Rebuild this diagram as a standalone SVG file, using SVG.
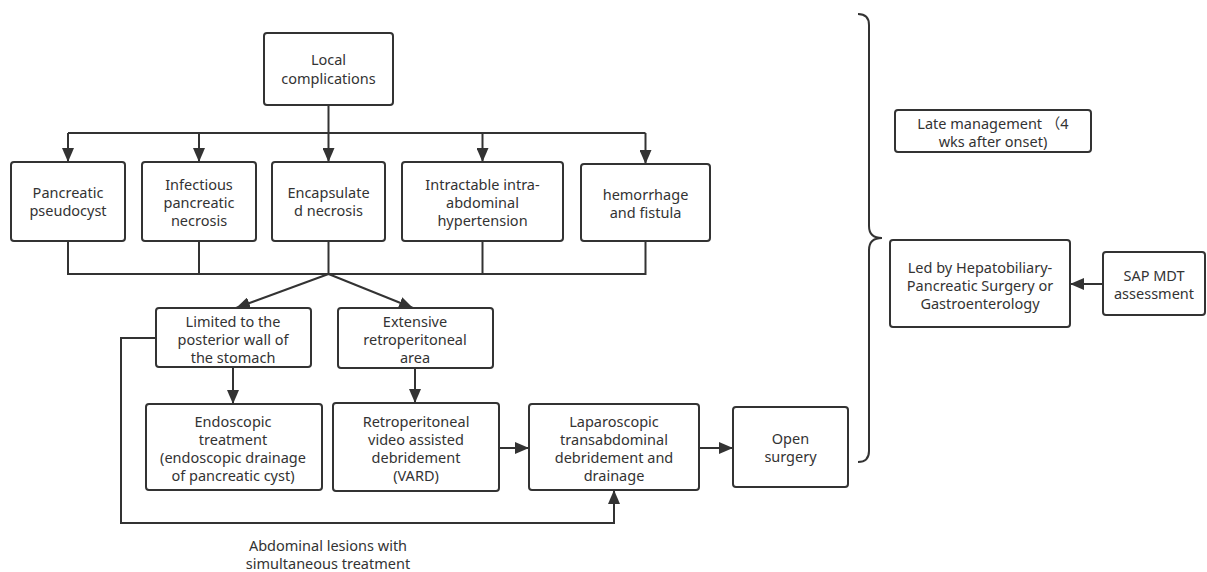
<svg xmlns="http://www.w3.org/2000/svg" width="1207" height="572" viewBox="0 0 1207 572">
<style>
.box{fill:#fff;stroke:#333;stroke-width:2}
.ln{fill:none;stroke:#333;stroke-width:2}
text{font-family:"Noto Sans","Noto Sans CJK SC",sans-serif;font-size:14.5px;fill:#333;text-anchor:middle}
</style>
<defs>
<marker id="ah" markerUnits="userSpaceOnUse" markerWidth="14" markerHeight="12" refX="14" refY="6" orient="auto">
<path d="M0,0 L14,6 L0,12 z" fill="#333"/>
</marker>
</defs>
<rect width="1207" height="572" fill="#fff"/>
<g id="connectors">
<path class="ln" d="M328.5,105 V133"/>
<path class="ln" d="M68,133 H645.5"/>
<path class="ln" d="M68,133 V162" marker-end="url(#ah)"/>
<path class="ln" d="M199,133 V162" marker-end="url(#ah)"/>
<path class="ln" d="M328.5,133 V162" marker-end="url(#ah)"/>
<path class="ln" d="M482.5,133 V162" marker-end="url(#ah)"/>
<path class="ln" d="M645.5,133 V164" marker-end="url(#ah)"/>
<path class="ln" d="M68,241 V274 H645.5 V241"/>
<path class="ln" d="M199,241 V274"/>
<path class="ln" d="M328.5,241 V274"/>
<path class="ln" d="M482.5,241 V274"/>
<path class="ln" d="M328.5,274 L236,308" marker-end="url(#ah)"/>
<path class="ln" d="M328.5,274 L413,308" marker-end="url(#ah)"/>
<path class="ln" d="M233,367 V404" marker-end="url(#ah)"/>
<path class="ln" d="M415,368 V403" marker-end="url(#ah)"/>
<path class="ln" d="M499,448 H529" marker-end="url(#ah)"/>
<path class="ln" d="M699,448 H733" marker-end="url(#ah)"/>
<path class="ln" d="M156,338 H121 V523 H614 V490" marker-end="url(#ah)"/>
<path class="ln" d="M1103,284 H1070" marker-end="url(#ah)"/>
<path class="ln" d="M858,14 Q869,14 869,25 V226 Q869,238 882,238 Q869,238 869,250 V451 Q869,462 858,462"/>
</g>
<g id="n-local">
<rect class="box" x="264" y="33" width="129" height="72" rx="3"/>
<text x="328.5" y="65">Local</text>
<text x="328.5" y="84">complications</text>
</g>
<g id="n-pseudocyst">
<rect class="box" x="11" y="162" width="114" height="79" rx="3"/>
<text x="68" y="198">Pancreatic</text>
<text x="68" y="216">pseudocyst</text>
</g>
<g id="n-infectious">
<rect class="box" x="142" y="162" width="114" height="79" rx="3"/>
<text x="199" y="190">Infectious</text>
<text x="199" y="208">pancreatic</text>
<text x="199" y="226">necrosis</text>
</g>
<g id="n-encapsulated">
<rect class="box" x="272" y="162" width="113" height="79" rx="3"/>
<text x="328.5" y="198">Encapsulate</text>
<text x="328.5" y="216">d necrosis</text>
</g>
<g id="n-intractable">
<rect class="box" x="402" y="162" width="161" height="79" rx="3"/>
<text x="482.5" y="190">Intractable intra-</text>
<text x="482.5" y="208">abdominal</text>
<text x="482.5" y="226">hypertension</text>
</g>
<g id="n-hemorrhage">
<rect class="box" x="581" y="164" width="129" height="77" rx="3"/>
<text x="645.5" y="200">hemorrhage</text>
<text x="645.5" y="218">and fistula</text>
</g>
<g id="n-limited">
<rect class="box" x="156" y="308" width="155" height="59" rx="3"/>
<text x="233" y="327">Limited to the</text>
<text x="233" y="345">posterior wall of</text>
<text x="233" y="363">the stomach</text>
</g>
<g id="n-extensive">
<rect class="box" x="338" y="308" width="155" height="60" rx="3"/>
<text x="415" y="327">Extensive</text>
<text x="415" y="345">retroperitoneal</text>
<text x="415" y="363">area</text>
</g>
<g id="n-endoscopic">
<rect class="box" x="146" y="404" width="176" height="86" rx="3"/>
<text x="233" y="427">Endoscopic</text>
<text x="233" y="445">treatment</text>
<text x="233" y="463">(endoscopic drainage</text>
<text x="233" y="481">of pancreatic cyst)</text>
</g>
<g id="n-vard">
<rect class="box" x="333" y="403" width="166" height="88" rx="3"/>
<text x="416" y="427">Retroperitoneal</text>
<text x="416" y="445">video assisted</text>
<text x="416" y="463">debridement</text>
<text x="416" y="481">(VARD)</text>
</g>
<g id="n-laparoscopic">
<rect class="box" x="529" y="404" width="170" height="86" rx="3"/>
<text x="614" y="427">Laparoscopic</text>
<text x="614" y="445">transabdominal</text>
<text x="614" y="463">debridement and</text>
<text x="614" y="481">drainage</text>
</g>
<g id="n-open">
<rect class="box" x="733" y="407" width="115" height="80" rx="3"/>
<text x="790.5" y="444">Open</text>
<text x="790.5" y="462">surgery</text>
</g>
<g id="n-late">
<rect class="box" x="895" y="110" width="196" height="42" rx="3"/>
<text x="993" y="129">Late management （4</text>
<text x="993" y="147">wks after onset)</text>
</g>
<g id="n-led">
<rect class="box" x="890" y="240" width="180" height="87" rx="3"/>
<text x="980" y="273">Led by Hepatobiliary-</text>
<text x="980" y="291">Pancreatic Surgery or</text>
<text x="980" y="309">Gastroenterology</text>
</g>
<g id="n-sap">
<rect class="box" x="1103" y="252" width="102" height="63" rx="3"/>
<text x="1154" y="281">SAP MDT</text>
<text x="1154" y="299">assessment</text>
</g>
<g id="label-simultaneous">
<text x="328" y="551">Abdominal lesions with</text>
<text x="328" y="569">simultaneous treatment</text>
</g>
</svg>
